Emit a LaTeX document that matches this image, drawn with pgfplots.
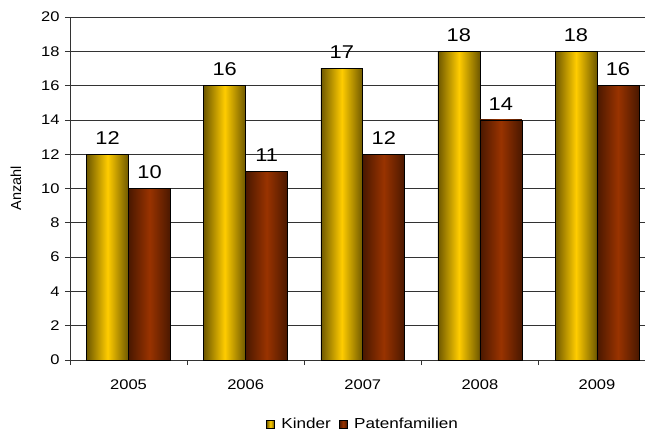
\documentclass[border=0pt]{standalone}
\usepackage{pgfplots}
\pgfplotsset{compat=1.18}
\usepackage{fontspec}
\setmainfont{Liberation Sans}[FakeStretch=1.18]
\newfontfamily\plainfont{Liberation Sans}
\definecolor{ydark}{HTML}{6E5800}
\definecolor{ymid}{HTML}{FFCC00}
\definecolor{rdark}{HTML}{4A1800}
\definecolor{rmid}{HTML}{993300}
\definecolor{gridc}{HTML}{333333}
\pgfplotsset{
  kbar/.style={ybar, bar shift=-0.179, draw=black, line width=0.6pt,
    left color=ydark, right color=ydark, middle color=ymid,
    every node near coord/.append style={xshift=-21pt}},
  pbar/.style={ybar, bar shift=0.179, draw=black, line width=0.6pt,
    left color=rdark, right color=rdark, middle color=rmid,
    every node near coord/.append style={xshift=21pt}},
}
\begin{document}
\begin{tikzpicture}
\useasboundingbox (-70pt,-72pt) rectangle (575pt,360pt);
\begin{axis}[
  at={(0,0)}, anchor=south west,
  scale only axis, width=575pt, height=343pt,
  xmin=-0.5, xmax=4.41, ymin=0, ymax=20,
  ytick={0,2,...,20},
  axis x line*=bottom, axis y line*=left,
  axis line style={gridc, line width=0.8pt},
  ymajorgrids, major grid style={gridc, line width=0.8pt},
  tick style={gridc, line width=0.8pt},
  tick align=outside, major tick length=5pt,
  xtick={-0.5,0.5,1.5,2.5,3.5}, xticklabels={},
  extra x ticks={0,1,2,3,4},
  extra x tick labels={2005,2006,2007,2008,2009},
  extra x tick style={major tick length=0pt, grid=none},
  tick label style={font=\fontsize{14}{16}\selectfont},
  xticklabel style={yshift=-16pt},
  yticklabel style={xshift=-2pt},
  /pgf/number format/assume math mode=true,
  nodes near coords,
  nodes near coords style={font=\fontsize{18.5}{21}\selectfont, yshift=6pt},
  legend style={at={(0.5096,-0.188)}, anchor=center, draw=none, legend columns=2,
     font=\fontsize{14.5}{17}\selectfont, /tikz/every even column/.append style={column sep=6pt}},
  legend image code/.code={\draw[#1, draw=black, line width=0.6pt] (0pt,-4pt) rectangle (8pt,4pt); \path[draw=none, fill=none, shading=none] (0pt,0pt) -- (13pt,0pt);},
  bar width=0.358,
  clip=false,
]
\addlegendimage{kbar}
\addlegendentry{Kinder}
\addlegendimage{pbar}
\addlegendentry{Patenfamilien}
\addplot[kbar, forget plot] coordinates {(0,12)};
\addplot[kbar, forget plot] coordinates {(1,16)};
\addplot[kbar, forget plot] coordinates {(2,17)};
\addplot[kbar, forget plot] coordinates {(3,18)};
\addplot[kbar, forget plot] coordinates {(4,18)};
\addplot[pbar, forget plot] coordinates {(0,10)};
\addplot[pbar, forget plot] coordinates {(1,11)};
\addplot[pbar, forget plot] coordinates {(2,12)};
\addplot[pbar, forget plot] coordinates {(3,14)};
\addplot[pbar, forget plot] coordinates {(4,16)};
\node[rotate=90, anchor=center, inner sep=0pt] at (rel axis cs:-0.0939,0.5) {\plainfont\fontsize{14.5}{17}\selectfont Anzahl};
\end{axis}
\end{tikzpicture}
\end{document}
